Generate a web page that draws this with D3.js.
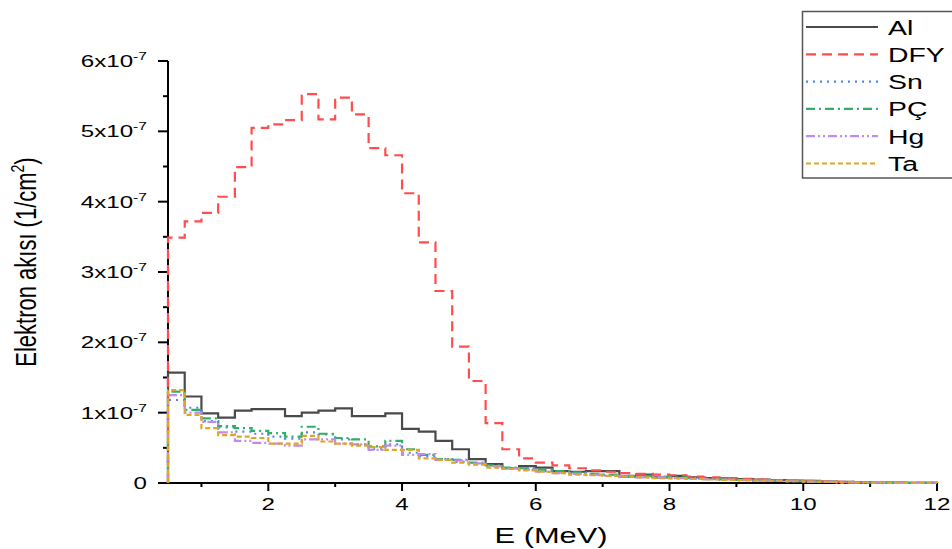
<!DOCTYPE html>
<html><head><meta charset="utf-8">
<script src="https://cdn.jsdelivr.net/npm/d3@7"></script>
<style>body{margin:0;background:#fff;} svg{display:block;} text{font-family:"Liberation Sans",Arial,sans-serif;fill:#000;}</style>
</head><body>
<svg id="c" width="952" height="549"></svg>
<script>
// Energy bin edges (MeV)
const binEdges = [0.5,0.75,1,1.25,1.5,1.75,2,2.25,2.5,2.75,3,3.25,3.5,3.75,4,4.25,4.5,4.75,5,5.25,5.5,5.75,6,6.25,6.5,6.75,7,7.25,7.5,7.75,8,8.25,8.5,8.75,9,9.25,9.5,9.75,10,10.25,10.5,10.75,11,11.25,11.5,11.75,12];
// Flux per bin, units of 1e-7 (1/cm^2)
const alValues  = [1.57,1.23,0.99,0.93,1.03,1.05,1.05,0.95,1.00,1.03,1.06,0.95,0.95,0.99,0.77,0.73,0.60,0.48,0.34,0.27,0.21,0.24,0.22,0.17,0.16,0.17,0.17,0.09,0.12,0.08,0.10,0.08,0.07,0.065,0.055,0.05,0.04,0.035,0.03,0.02,0.015,0.01,0.006,0.004,0.002,0.001];
const dfyValues = [3.49,3.72,3.84,4.07,4.49,5.05,5.10,5.16,5.53,5.17,5.48,5.24,4.76,4.66,4.12,3.42,2.73,1.94,1.45,0.85,0.48,0.35,0.29,0.25,0.21,0.18,0.16,0.14,0.13,0.12,0.11,0.09,0.08,0.07,0.06,0.05,0.04,0.035,0.03,0.02,0.015,0.01,0.005,0.003,0.002,0.001];
const snValues  = [1.18,1.07,0.88,0.79,0.73,0.70,0.66,0.63,0.72,0.69,0.62,0.55,0.48,0.55,0.43,0.38,0.34,0.30,0.27,0.24,0.21,0.19,0.17,0.15,0.14,0.12,0.11,0.10,0.09,0.08,0.07,0.065,0.055,0.05,0.04,0.035,0.03,0.025,0.02,0.015,0.01,0.007,0.004,0.003,0.002,0.001];
const pcValues  = [1.30,1.04,0.92,0.81,0.78,0.74,0.71,0.66,0.80,0.70,0.64,0.62,0.52,0.60,0.48,0.40,0.34,0.33,0.29,0.25,0.22,0.21,0.19,0.17,0.15,0.13,0.12,0.10,0.10,0.09,0.08,0.07,0.06,0.05,0.045,0.04,0.03,0.025,0.02,0.015,0.01,0.008,0.005,0.003,0.002,0.001];
const hgValues  = [1.25,1.00,0.87,0.72,0.60,0.57,0.56,0.53,0.62,0.62,0.56,0.55,0.47,0.53,0.40,0.41,0.33,0.32,0.28,0.24,0.21,0.19,0.16,0.14,0.13,0.12,0.10,0.09,0.08,0.08,0.07,0.06,0.055,0.05,0.04,0.035,0.03,0.025,0.02,0.015,0.01,0.007,0.004,0.003,0.002,0.001];
const taValues  = [1.32,0.97,0.78,0.68,0.66,0.64,0.56,0.56,0.67,0.59,0.56,0.53,0.51,0.47,0.47,0.35,0.33,0.29,0.26,0.22,0.20,0.18,0.16,0.14,0.12,0.11,0.10,0.09,0.08,0.07,0.065,0.06,0.05,0.045,0.04,0.035,0.03,0.025,0.02,0.015,0.01,0.007,0.004,0.003,0.002,0.001];
const seriesNames = ["Al","DFY","Sn","PÇ","Hg","Ta"];
const xTicks = [2,4,6,8,10,12];
const yTicks = [0,1,2,3,4,5,6];

const series = [
  {name:seriesNames[0], values:alValues,  color:"#4a4a4a", dash:null,            w:2.2},
  {name:seriesNames[1], values:dfyValues, color:"#ff4d4d", dash:"10,6",          w:2.2},
  {name:seriesNames[2], values:snValues,  color:"#4f86e8", dash:"2,5",           w:2.2},
  {name:seriesNames[3], values:pcValues,  color:"#2eaf6a", dash:"9,4,2,4",       w:2.2},
  {name:seriesNames[4], values:hgValues,  color:"#c28af0", dash:"9,3,2,3,2,3",   w:2.2},
  {name:seriesNames[5], values:taValues,  color:"#e0a524", dash:"5,3",           w:2.2}
];

const svg = d3.select("#c");
const x = d3.scaleLinear().domain([0.5,12]).range([168,937]);
const y = d3.scaleLinear().domain([0,6]).range([483,61]);
const SX = 1.42;

// axes
const ax = svg.append("g");
ax.append("line").attr("x1",x(0.5)).attr("x2",x(12)).attr("y1",y(0)).attr("y2",y(0)).attr("stroke","#000").attr("stroke-width",2);
ax.append("line").attr("x1",x(0.5)).attr("x2",x(0.5)).attr("y1",y(0)+1).attr("y2",y(6)).attr("stroke","#000").attr("stroke-width",2);
// x ticks
d3.range(1,13).forEach(v=>{
  const major = v%2===0;
  ax.append("line").attr("x1",x(v)).attr("x2",x(v)).attr("y1",y(0)).attr("y2",y(0)+(major?8:4)).attr("stroke","#000").attr("stroke-width",2);
});
xTicks.forEach(v=>{
  svg.append("text").attr("transform",`translate(${x(v)},510) scale(${SX},1)`).attr("text-anchor","middle").attr("font-size",17).text(v);
});
// y ticks
d3.range(0,6.01,0.5).forEach(v=>{
  const major = Math.abs(v-Math.round(v))<1e-6;
  ax.append("line").attr("x1",x(0.5)).attr("x2",x(0.5)-(major?10:5)).attr("y1",y(v)).attr("y2",y(v)).attr("stroke","#000").attr("stroke-width",2);
});
yTicks.forEach(v=>{
  const t = svg.append("text").attr("transform",`translate(147,${y(v)+6}) scale(${SX},1)`).attr("text-anchor","end").attr("font-size",17);
  if(v===0){ t.text("0"); }
  else { t.append("tspan").text(v+"x10"); t.append("tspan").attr("font-size",11).attr("dy",-7).text("-7"); }
});
// axis titles
svg.append("text").attr("transform",`translate(551,543) scale(1.4,1)`).attr("text-anchor","middle").attr("font-size",22).text("E (MeV)");
const yt = svg.append("text").attr("transform",`translate(36,262) scale(1.3,1) rotate(-90)`).attr("text-anchor","middle").attr("font-size",22);
yt.append("tspan").text("Elektron akısı (1/cm");
yt.append("tspan").attr("font-size",14).attr("dy",-9).text("2");
yt.append("tspan").attr("dy",9).text(")");

// series
const line = d3.line().x(d=>x(d[0])).y(d=>y(d[1]));
series.forEach(s=>{
  const pts = [[binEdges[0],0]];
  s.values.forEach((v,i)=>{ pts.push([binEdges[i],v]); pts.push([binEdges[i+1],v]); });
  pts.push([binEdges[binEdges.length-1],0]);
  svg.append("path").attr("d",line(pts)).attr("fill","none").attr("stroke",s.color)
    .attr("stroke-width",s.w).attr("stroke-dasharray",s.dash).attr("stroke-linejoin","miter");
});

// legend
const lg = svg.append("g");
lg.append("rect").attr("x",802.5).attr("y",11.5).attr("width",170).attr("height",166.5).attr("fill","#fff").attr("stroke","#555").attr("stroke-width",1.5);
series.forEach((s,i)=>{
  const cy = 27 + i*27.3;
  lg.append("line").attr("x1",806).attr("x2",878).attr("y1",cy).attr("y2",cy).attr("stroke",s.color).attr("stroke-width",s.w).attr("stroke-dasharray",s.dash);
  lg.append("text").attr("transform",`translate(888,${cy+7.5}) scale(${SX},1)`).attr("font-size",20).text(s.name);
});
</script>
</body></html>
